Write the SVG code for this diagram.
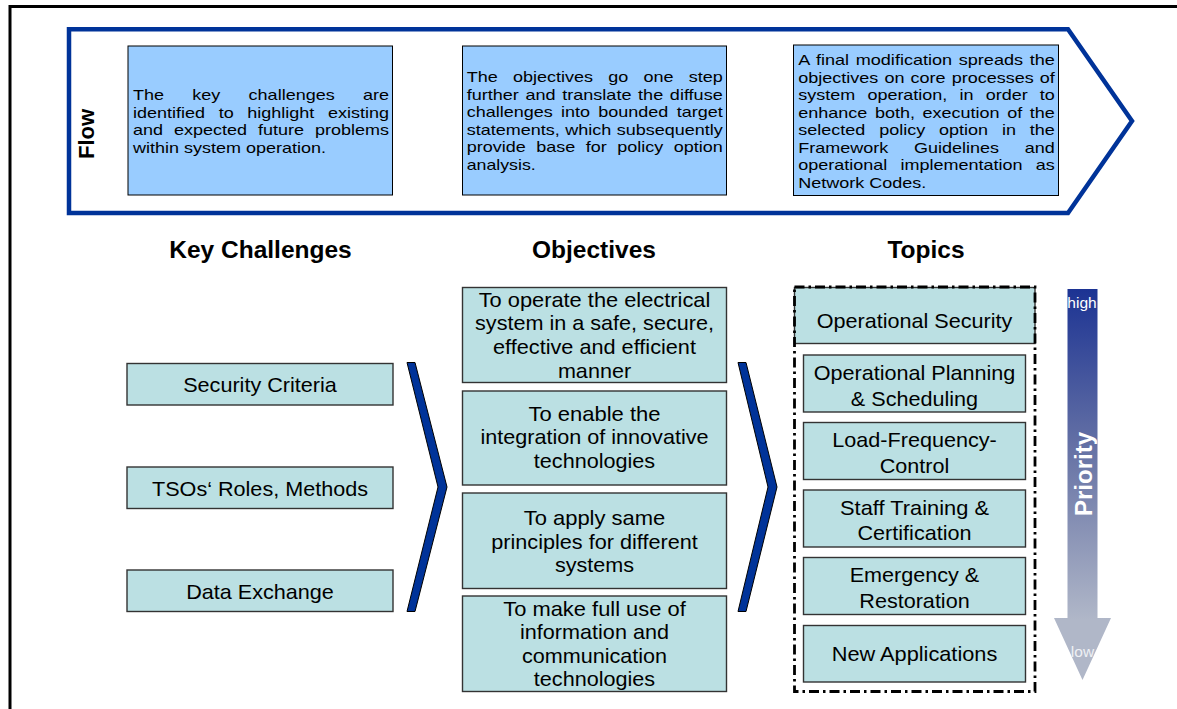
<svg xmlns="http://www.w3.org/2000/svg" width="1177" height="709" viewBox="0 0 1177 709">
<style>
text{font-family:"Liberation Sans",Arial,sans-serif;fill:#000}
.top{fill:#99CCFF;stroke:#000;stroke-width:1}
.box{fill:#BBE0E3;stroke:#333;stroke-width:1.4}
.tt{font-size:15px}
.b{font-size:19.8px;text-anchor:middle}
.h{font-size:24.5px;font-weight:bold;text-anchor:middle}
.chev{fill:#003399;stroke:#000;stroke-width:1}
</style>
<defs>
<linearGradient id="pg" gradientUnits="userSpaceOnUse" x1="0" y1="289" x2="0" y2="620">
<stop offset="0" stop-color="#1C3393"/>
<stop offset="0.5" stop-color="#6874A6"/>
<stop offset="1" stop-color="#B0B7C8"/>
</linearGradient>
</defs>
<rect width="1177" height="709" fill="#fff"/>
<rect x="10" y="6.5" width="1200" height="800" fill="none" stroke="#000" stroke-width="3"/>

<g id="flow">
<polygon points="69,29.3 1068,29.3 1132,121 1068,213 69,213" fill="none" stroke="#003399" stroke-width="4.5"/>
<text transform="translate(94,134) rotate(-90)" text-anchor="middle" font-size="22" font-weight="bold">Flow</text>
</g>

<g id="flow-keychallenges">
<rect class="top" x="128" y="46" width="264.5" height="149"/>
<text class="tt">
<tspan x="133" y="100" textLength="256" lengthAdjust="spacingAndGlyphs" style="word-spacing:19.4px">The key challenges are</tspan>
<tspan x="133" y="117.5" textLength="256" lengthAdjust="spacingAndGlyphs" style="word-spacing:7.2px">identified to highlight existing</tspan>
<tspan x="133" y="135" textLength="256" lengthAdjust="spacingAndGlyphs" style="word-spacing:5px">and expected future problems</tspan>
<tspan x="133" y="152.5" textLength="193" lengthAdjust="spacingAndGlyphs">within system operation.</tspan>
</text>
</g>

<g id="flow-objectives">
<rect class="top" x="462.5" y="46" width="264" height="149"/>
<text class="tt">
<tspan x="466.7" y="82" textLength="256" lengthAdjust="spacingAndGlyphs" style="word-spacing:8.5px">The objectives go one step</tspan>
<tspan x="466.7" y="99.5" textLength="256" lengthAdjust="spacingAndGlyphs" style="word-spacing:1.4px">further and translate the diffuse</tspan>
<tspan x="466.7" y="117" textLength="256" lengthAdjust="spacingAndGlyphs" style="word-spacing:2.75px">challenges into bounded target</tspan>
<tspan x="466.7" y="134.5" textLength="256" lengthAdjust="spacingAndGlyphs" style="word-spacing:0.4px">statements, which subsequently</tspan>
<tspan x="466.7" y="152" textLength="256" lengthAdjust="spacingAndGlyphs" style="word-spacing:4.6px">provide base for policy option</tspan>
<tspan x="466.7" y="169.5" textLength="69" lengthAdjust="spacingAndGlyphs">analysis.</tspan>
</text>
</g>

<g id="flow-topics">
<rect class="top" x="793.5" y="45" width="265" height="150.5"/>
<text class="tt">
<tspan x="798.3" y="65" textLength="256.5" lengthAdjust="spacingAndGlyphs" style="word-spacing:1.3px">A final modification spreads the</tspan>
<tspan x="798.3" y="82.5" textLength="256.5" lengthAdjust="spacingAndGlyphs" style="word-spacing:0.95px">objectives on core processes of</tspan>
<tspan x="798.3" y="100" textLength="256.5" lengthAdjust="spacingAndGlyphs" style="word-spacing:6px">system operation, in order to</tspan>
<tspan x="798.3" y="117.5" textLength="256.5" lengthAdjust="spacingAndGlyphs" style="word-spacing:2.2px">enhance both, execution of the</tspan>
<tspan x="798.3" y="135" textLength="256.5" lengthAdjust="spacingAndGlyphs" style="word-spacing:7.4px">selected policy option in the</tspan>
<tspan x="798.3" y="152.5" textLength="256.5" lengthAdjust="spacingAndGlyphs" style="word-spacing:17.3px">Framework Guidelines and</tspan>
<tspan x="798.3" y="170" textLength="256.5" lengthAdjust="spacingAndGlyphs" style="word-spacing:6.9px">operational implementation as</tspan>
<tspan x="798.3" y="187.5" textLength="128" lengthAdjust="spacingAndGlyphs">Network Codes.</tspan>
</text>
</g>

<g id="headers">
<text class="h" x="260.5" y="257.5">Key Challenges</text>
<text class="h" x="594" y="257.5">Objectives</text>
<text class="h" x="926" y="257.5">Topics</text>
</g>

<g id="kc-security">
<rect class="box" x="127" y="363.5" width="266" height="41.5"/>
<text class="b" x="260" y="392" textLength="153.6" lengthAdjust="spacingAndGlyphs">Security Criteria</text>
</g>
<g id="kc-roles">
<rect class="box" x="127" y="467" width="266" height="41.5"/>
<text class="b" x="260" y="495.5" textLength="216" lengthAdjust="spacingAndGlyphs">TSOs‘ Roles, Methods</text>
</g>
<g id="kc-data">
<rect class="box" x="127" y="570" width="266" height="41.5"/>
<text class="b" x="260" y="599" textLength="147.7" lengthAdjust="spacingAndGlyphs">Data Exchange</text>
</g>

<g id="obj-operate">
<rect class="box" x="462.5" y="287.5" width="264" height="95"/>
<text class="b"><tspan x="594.5" y="306.5" textLength="231.7" lengthAdjust="spacingAndGlyphs">To operate the electrical</tspan><tspan x="594.5" y="330.2" textLength="238.9" lengthAdjust="spacingAndGlyphs">system in a safe, secure,</tspan><tspan x="594.5" y="353.9" textLength="202.9" lengthAdjust="spacingAndGlyphs">effective and efficient</tspan><tspan x="594.5" y="377.6" textLength="73.2" lengthAdjust="spacingAndGlyphs">manner</tspan></text>
</g>
<g id="obj-integration">
<rect class="box" x="462.5" y="391" width="264" height="94"/>
<text class="b"><tspan x="594.5" y="420.5" textLength="132.1" lengthAdjust="spacingAndGlyphs">To enable the</tspan><tspan x="594.5" y="444.2" textLength="228.1" lengthAdjust="spacingAndGlyphs">integration of innovative</tspan><tspan x="594.5" y="467.9" textLength="121.3" lengthAdjust="spacingAndGlyphs">technologies</tspan></text>
</g>
<g id="obj-principles">
<rect class="box" x="462.5" y="493" width="264" height="95.5"/>
<text class="b"><tspan x="594.5" y="525" textLength="141.7" lengthAdjust="spacingAndGlyphs">To apply same</tspan><tspan x="594.5" y="548.7" textLength="206.5" lengthAdjust="spacingAndGlyphs">principles for different</tspan><tspan x="594.5" y="572.4" textLength="79.2" lengthAdjust="spacingAndGlyphs">systems</tspan></text>
</g>
<g id="obj-ict">
<rect class="box" x="462.5" y="596" width="264" height="95.5"/>
<text class="b"><tspan x="594.5" y="615.5" textLength="182.5" lengthAdjust="spacingAndGlyphs">To make full use of</tspan><tspan x="594.5" y="639" textLength="148.9" lengthAdjust="spacingAndGlyphs">information and</tspan><tspan x="594.5" y="662.5" textLength="145.2" lengthAdjust="spacingAndGlyphs">communication</tspan><tspan x="594.5" y="686" textLength="121.3" lengthAdjust="spacingAndGlyphs">technologies</tspan></text>
</g>

<g id="topic-security">
<rect class="box" x="794.5" y="287.5" width="240.5" height="56" stroke="#000" stroke-width="2"/>
<text class="b" x="914.5" y="328" textLength="195.7" lengthAdjust="spacingAndGlyphs">Operational Security</text>
</g>
<g id="topic-planning">
<rect class="box" x="803.5" y="355" width="222" height="57"/>
<text class="b"><tspan x="914.5" y="380" textLength="201.7" lengthAdjust="spacingAndGlyphs">Operational Planning</tspan><tspan x="914.5" y="405.5" textLength="127.3" lengthAdjust="spacingAndGlyphs">&amp; Scheduling</tspan></text>
</g>
<g id="topic-lfc">
<rect class="box" x="803.5" y="422.5" width="222" height="57"/>
<text class="b"><tspan x="914.5" y="447" textLength="164.5" lengthAdjust="spacingAndGlyphs">Load-Frequency-</tspan><tspan x="914.5" y="472.5" textLength="69.6" lengthAdjust="spacingAndGlyphs">Control</tspan></text>
</g>
<g id="topic-training">
<rect class="box" x="803.5" y="490" width="222" height="57"/>
<text class="b"><tspan x="914.5" y="514.5" textLength="148.9" lengthAdjust="spacingAndGlyphs">Staff Training &amp;</tspan><tspan x="914.5" y="540" textLength="114" lengthAdjust="spacingAndGlyphs">Certification</tspan></text>
</g>
<g id="topic-emergency">
<rect class="box" x="803.5" y="557.5" width="222" height="57"/>
<text class="b"><tspan x="914.5" y="582" textLength="129.6" lengthAdjust="spacingAndGlyphs">Emergency &amp;</tspan><tspan x="914.5" y="607.5" textLength="110.4" lengthAdjust="spacingAndGlyphs">Restoration</tspan></text>
</g>
<g id="topic-new">
<rect class="box" x="803.5" y="625.5" width="222" height="56.5"/>
<text class="b" x="914.5" y="661" textLength="165.6" lengthAdjust="spacingAndGlyphs">New Applications</text>
</g>
<g id="topics-frame">
<rect x="794.5" y="287" width="240.5" height="404.5" fill="none" stroke="#000" stroke-width="2.8" stroke-dasharray="10 4 2.5 4"/>
</g>

<g id="priority">
<polygon points="1067.5,289 1097.5,289 1097.5,618 1111,618 1082.5,680 1054,618 1067.5,618" fill="url(#pg)"/>
<text x="1082" y="308" font-size="15.5" text-anchor="middle" style="fill:#fff">high</text>
<text x="1082.5" y="657" font-size="15.5" text-anchor="middle" style="fill:#EEF0F4">low</text>
<text transform="translate(1092,474) rotate(-90)" text-anchor="middle" font-size="24" font-weight="bold" style="fill:#fff">Priority</text>
</g>

<g id="connectors">
<polygon class="chev" points="407,362.5 415,362.5 447,487 415,611.5 407,611.5 438,487"/>
<polygon class="chev" points="738,362.5 746,362.5 777,487 746,611.5 738,611.5 768,487"/>
</g>
</svg>
